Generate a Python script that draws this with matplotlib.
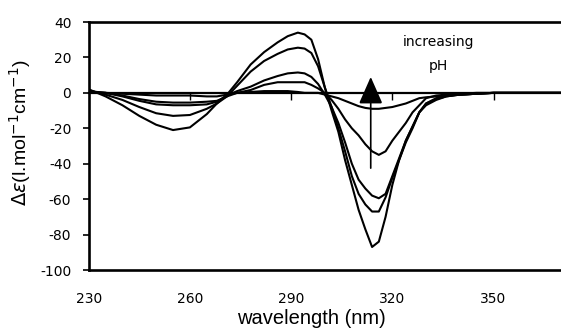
import matplotlib
matplotlib.use('Agg')
import matplotlib.pyplot as plt

plt.rcParams['axes.unicode_minus'] = False

wavelength = [230, 235, 240, 245, 250, 255, 260, 265, 268, 271, 274, 278, 282, 286, 289,
              292, 294, 296, 298, 300, 302, 304, 306, 308, 310, 312, 314, 316, 318, 320,
              322, 324, 326, 328, 330, 333, 336, 340, 345, 350, 355, 360, 365, 370]

curve_a = [2, -2, -7, -13, -18, -21, -19.5, -12, -6, -1, 6, 16, 23, 28.5, 32,
           34, 33, 30, 19, 3, -10, -22, -38, -52, -66, -77, -87, -84, -70, -52,
           -38, -28, -20, -11, -7, -4, -2, -1, -0.5, 0, 0, 0, 0, 0]

curve_b = [1.5, -1, -4, -8, -11.5, -13, -12.5, -9, -6, -2, 4, 12, 18, 22, 24.5,
           25.5, 25, 22.5, 15, 3, -8, -20, -33, -47, -57, -63, -67, -67, -59, -48,
           -38, -27, -19, -11, -6, -3.5, -2, -1, -0.5, 0, 0, 0, 0, 0]

curve_c = [1, 0, -2, -4.5, -6.5, -7, -7, -6.5, -5, -1.5, 1, 3.5, 7, 9.5, 11,
           11.5, 11, 9, 5, -1, -8, -17, -28, -40, -49, -54, -58, -59.5, -57, -47,
           -37, -27, -19, -11, -6, -3, -1.5, -1, -0.5, 0, 0, 0, 0, 0]

curve_d = [0.5, 0, -1.5, -3.5, -5, -5.5, -5.5, -5, -4.5, -2, 0, 1.6, 4.5, 6, 6,
           6, 6, 4.5, 2.5, 0, -4, -9, -15, -20, -24, -29, -33, -35, -33, -27,
           -22, -17, -11, -7, -3, -1.5, -1, -0.5, 0, 0, 0, 0, 0, 0]

curve_e = [0.5, 0, -0.5, -1, -1.5, -1.5, -1.5, -2, -2, -1, 0, 0.5, 1, 1, 1,
           0.5, 0, 0, 0, -1, -2, -3, -4.5, -6, -7.5, -8.5, -9, -9, -8.5, -8,
           -7, -6, -4.5, -3, -2.5, -2, -1.5, -1, -0.5, 0, 0, 0, 0, 0]

curves = [curve_a, curve_b, curve_c, curve_d, curve_e]

x_ticks = [230, 260, 290, 320, 350]
x_tick_labels = ['230', '260', '290', '320', '350']
y_ticks = [40, 20, 0, -20, -40, -60, -80, -100]
y_tick_labels = ['40', '20', '0', '-20', '-40', '-60', '-80', '-100']

W, H = 561, 331
fig = plt.figure(figsize=(W / 100, H / 100), dpi=100)
ax = fig.add_axes([88.7 / W, 61 / H, 1 - 88.7 / W, 248 / H])

for c in curves:
    ax.plot(wavelength, c, color='black', lw=1.5)

ax.set_xlim(230, 370)
ax.set_ylim(-100, 40)

ax.spines['right'].set_visible(False)
ax.spines['top'].set_linewidth(1.9)
ax.spines['left'].set_linewidth(1.9)
ax.spines['bottom'].set_position(('data', 0))
ax.spines['bottom'].set_linewidth(1.6)

ax.set_xticks(x_ticks[1:])
ax.tick_params(axis='x', direction='out', length=5, width=1.0, labelbottom=False)

sec = ax.secondary_xaxis('bottom')
sec.set_xticks(x_ticks, labels=x_tick_labels)
sec.tick_params(length=0, pad=16, labelsize=10)
sec.spines['bottom'].set_linewidth(1.9)

ax.set_yticks(y_ticks, labels=y_tick_labels)
ax.tick_params(axis='y', direction='out', length=4.5, width=1.2, pad=8, labelsize=10)

ax.annotate('', xy=(313.6, 9), xytext=(313.6, -42.5),
            arrowprops=dict(arrowstyle='-|>,head_length=1.7,head_width=0.75',
                            mutation_scale=10, lw=1.2, color='black',
                            joinstyle='miter', shrinkA=0, shrinkB=0))

ax.text(333.7, 28.7, 'increasing', ha='center', va='center', fontsize=10)
ax.text(333.7, 15.2, 'pH', ha='center', va='center', fontsize=10)

fig.text(311 / W, 1 - 319 / H, 'wavelength (nm)', ha='center', va='center',
         fontsize=14.5, family='Liberation Sans')
fig.text(20 / W, 1 - 133 / H, r'$\Delta\varepsilon$(l.mol$^{-1}$cm$^{-1}$)',
         ha='center', va='center', rotation=90, fontsize=14, family='Liberation Sans')

fig.savefig('out.png', dpi=100)
